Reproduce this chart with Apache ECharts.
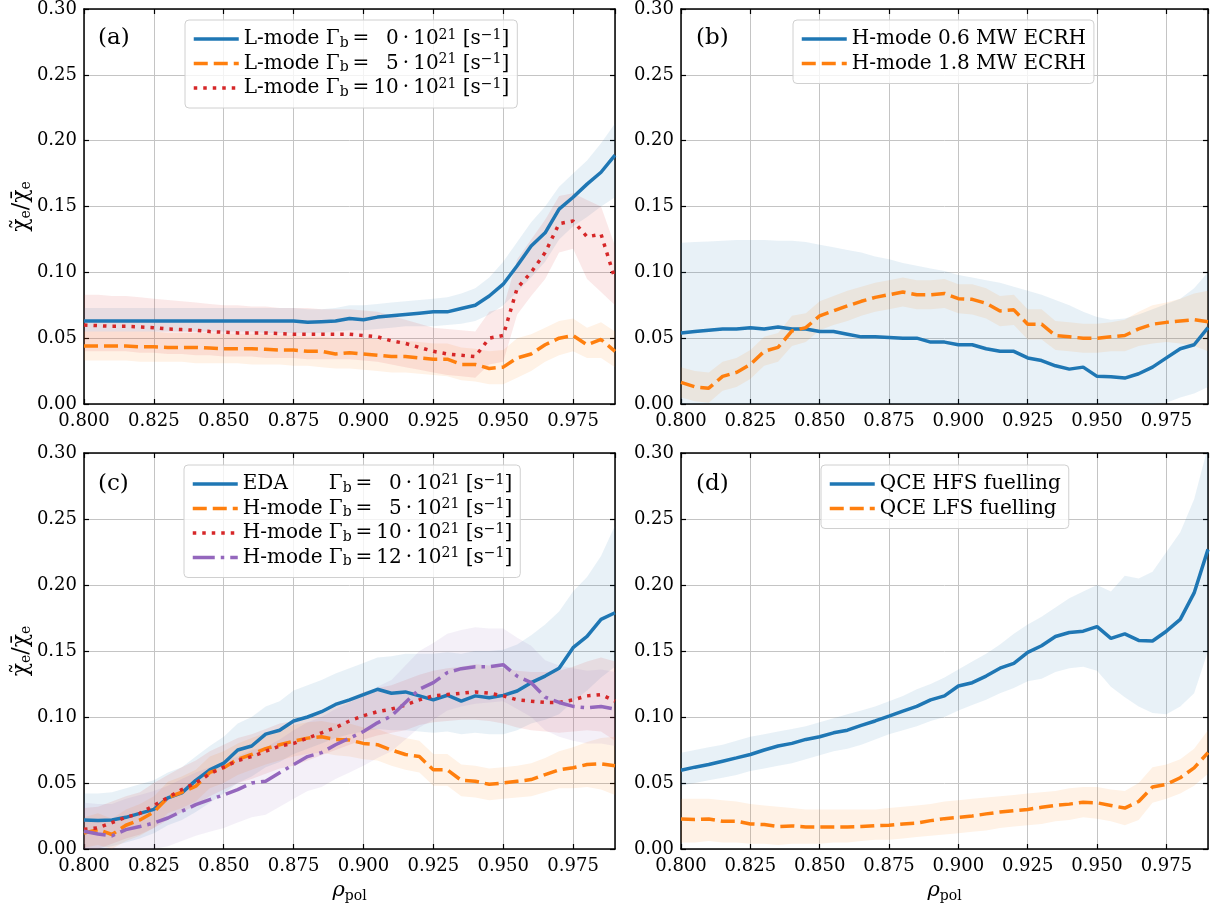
<!DOCTYPE html>
<html>
<head>
<meta charset="utf-8">
<script src="https://cdn.jsdelivr.net/npm/echarts@6/dist/echarts.min.js"></script>
<style>
html,body{margin:0;padding:0;background:#fff;}
#chart{width:1216px;height:909px;}
</style>
</head>
<body>
<div id="chart"></div>
<script>
// ---------- DATA ----------
const rho = [0.800,0.805,0.810,0.815,0.820,0.825,0.830,0.835,0.840,0.845,
             0.850,0.855,0.860,0.865,0.870,0.875,0.880,0.885,0.890,0.895,
             0.900,0.905,0.910,0.915,0.920,0.925,0.930,0.935,0.940,0.945,
             0.950,0.955,0.960,0.965,0.970,0.975,0.980,0.985,0.990];
const xTicks = [0.800,0.825,0.850,0.875,0.900,0.925,0.950,0.975];
const yTicks = [0.00,0.05,0.10,0.15,0.20,0.25,0.30];

// (a) L-mode
const aBlue   = [0.063,0.063,0.063,0.063,0.063,0.063,0.063,0.063,0.063,0.063, 0.063,0.063,0.063,0.063,0.063,0.063,0.062,0.0625,0.063,0.065, 0.064,0.066,0.067,0.068,0.069,0.070,0.070,0.0725,0.075,0.082, 0.091,0.105,0.120,0.130,0.148,0.157,0.167,0.176,0.189];
const aBlueLo = [0.055,0.055,0.055,0.055,0.055,0.055,0.055,0.055,0.055,0.055, 0.055,0.055,0.055,0.054,0.054,0.054,0.054,0.054,0.055,0.056, 0.056,0.057,0.058,0.059,0.059,0.059,0.060,0.061,0.063,0.068, 0.075,0.085,0.096,0.108,0.125,0.135,0.142,0.150,0.157];
const aBlueHi = [0.073,0.073,0.073,0.073,0.073,0.073,0.073,0.073,0.073,0.073, 0.073,0.073,0.073,0.073,0.073,0.073,0.072,0.072,0.073,0.075, 0.075,0.076,0.077,0.078,0.079,0.080,0.081,0.084,0.088,0.096, 0.108,0.123,0.138,0.150,0.165,0.175,0.185,0.198,0.213];
const aOrange   = [0.044,0.044,0.044,0.044,0.0435,0.0435,0.043,0.043,0.043,0.0425, 0.042,0.042,0.042,0.0415,0.041,0.041,0.040,0.040,0.038,0.039, 0.038,0.037,0.036,0.036,0.035,0.034,0.034,0.030,0.030,0.027, 0.028,0.035,0.038,0.045,0.050,0.052,0.045,0.049,0.040];
const aOrangeLo = [0.033,0.033,0.033,0.033,0.032,0.032,0.032,0.032,0.031,0.031, 0.031,0.031,0.030,0.030,0.030,0.029,0.029,0.028,0.027,0.027, 0.026,0.025,0.024,0.024,0.023,0.022,0.021,0.018,0.017,0.015, 0.015,0.020,0.025,0.032,0.037,0.040,0.035,0.035,0.028];
const aOrangeHi = [0.055,0.055,0.055,0.055,0.055,0.055,0.054,0.054,0.054,0.054, 0.053,0.053,0.053,0.053,0.052,0.052,0.051,0.051,0.050,0.050, 0.050,0.049,0.048,0.048,0.047,0.046,0.046,0.043,0.042,0.040, 0.041,0.050,0.053,0.058,0.063,0.065,0.058,0.062,0.055];
const aRed   = [0.060,0.0595,0.059,0.059,0.0585,0.058,0.057,0.0565,0.056,0.055, 0.0545,0.054,0.054,0.054,0.0535,0.053,0.053,0.053,0.053,0.053, 0.052,0.051,0.048,0.046,0.043,0.040,0.038,0.037,0.036,0.050, 0.052,0.088,0.100,0.115,0.137,0.139,0.127,0.129,0.095];
const aRedLo = [0.040,0.040,0.040,0.040,0.039,0.039,0.038,0.038,0.037,0.037, 0.036,0.036,0.036,0.035,0.035,0.035,0.034,0.034,0.034,0.034, 0.033,0.032,0.030,0.028,0.026,0.024,0.022,0.021,0.020,0.030, 0.032,0.068,0.082,0.095,0.115,0.118,0.095,0.085,0.075];
const aRedHi = [0.083,0.083,0.082,0.082,0.081,0.080,0.079,0.078,0.077,0.076, 0.075,0.075,0.074,0.074,0.073,0.073,0.073,0.072,0.072,0.072, 0.071,0.070,0.067,0.064,0.061,0.058,0.057,0.056,0.055,0.070, 0.073,0.110,0.125,0.140,0.158,0.160,0.155,0.150,0.120];

// (b) H-mode ECRH
const bBlue   = [0.054,0.055,0.056,0.057,0.057,0.058,0.057,0.0585,0.057,0.057, 0.055,0.055,0.053,0.051,0.051,0.0505,0.050,0.050,0.047,0.047, 0.045,0.045,0.042,0.040,0.040,0.035,0.033,0.029,0.0265,0.028, 0.021,0.0207,0.0197,0.023,0.028,0.035,0.042,0.045,0.058];
const bBlueLo = [0,0,0,0,0,0,0,0,0,0, 0,0,0,0,0,0,0,0,0,0, 0,0,0,0,0,0,0,0,0,0, 0,0,0,0,0,0.001,0.005,0.008,0.013];
const bBlueHi = [0.1225,0.123,0.1235,0.124,0.1245,0.1245,0.1245,0.124,0.124,0.123, 0.121,0.119,0.117,0.115,0.112,0.110,0.107,0.105,0.103,0.101, 0.098,0.096,0.094,0.092,0.089,0.086,0.083,0.079,0.075,0.070, 0.066,0.064,0.065,0.068,0.072,0.076,0.080,0.088,0.100];
const bOrange   = [0.0164,0.013,0.012,0.021,0.024,0.030,0.040,0.043,0.0555,0.058, 0.067,0.0707,0.0745,0.078,0.081,0.083,0.085,0.083,0.083,0.084, 0.080,0.0795,0.0765,0.0707,0.0715,0.0606,0.0606,0.052,0.051,0.050, 0.050,0.051,0.052,0.057,0.0606,0.062,0.063,0.064,0.0624];
const bOrangeLo = [0.005,0.002,0.001,0.010,0.013,0.019,0.029,0.032,0.044,0.047, 0.056,0.060,0.063,0.067,0.070,0.072,0.074,0.072,0.072,0.073, 0.069,0.068,0.065,0.059,0.060,0.049,0.049,0.041,0.040,0.039, 0.039,0.040,0.040,0.044,0.046,0.047,0.046,0.044,0.040];
const bOrangeHi = [0.028,0.025,0.024,0.032,0.035,0.041,0.051,0.054,0.067,0.069, 0.078,0.082,0.086,0.089,0.092,0.094,0.096,0.094,0.094,0.095, 0.091,0.091,0.088,0.082,0.083,0.072,0.072,0.063,0.062,0.061, 0.061,0.062,0.064,0.070,0.075,0.077,0.080,0.084,0.086];

// (c) EDA / H-mode
const cBlue   = [0.022,0.0215,0.022,0.024,0.027,0.030,0.0387,0.0425,0.052,0.060, 0.065,0.075,0.078,0.087,0.090,0.097,0.100,0.104,0.1095,0.113, 0.117,0.121,0.118,0.119,0.116,0.113,0.1165,0.112,0.116,0.1146, 0.1164,0.1197,0.126,0.131,0.137,0.1525,0.161,0.174,0.179];
const cBlueLo = [0.000,0.000,0.002,0.005,0.008,0.012,0.018,0.022,0.028,0.035, 0.042,0.050,0.055,0.062,0.066,0.072,0.076,0.080,0.084,0.087, 0.089,0.091,0.090,0.090,0.089,0.088,0.089,0.087,0.088,0.087, 0.087,0.090,0.095,0.098,0.102,0.112,0.120,0.130,0.138];
const cBlueHi = [0.042,0.042,0.043,0.046,0.049,0.052,0.058,0.062,0.070,0.078, 0.085,0.095,0.100,0.108,0.112,0.120,0.124,0.128,0.133,0.137, 0.141,0.145,0.146,0.148,0.148,0.148,0.149,0.148,0.150,0.150, 0.151,0.155,0.162,0.170,0.180,0.195,0.206,0.222,0.245];
const cOrange   = [0.012,0.0147,0.011,0.018,0.022,0.028,0.039,0.043,0.0476,0.058, 0.0615,0.068,0.0716,0.076,0.079,0.0817,0.084,0.085,0.083,0.0825, 0.080,0.079,0.075,0.0716,0.070,0.060,0.060,0.052,0.0513,0.049, 0.050,0.0513,0.0526,0.0564,0.060,0.0615,0.064,0.0645,0.063];
const cOrangeLo = [0.001,0.003,0.000,0.006,0.010,0.016,0.027,0.031,0.036,0.046, 0.050,0.056,0.060,0.064,0.067,0.070,0.072,0.073,0.071,0.070, 0.068,0.067,0.063,0.060,0.058,0.048,0.048,0.040,0.039,0.037, 0.038,0.039,0.040,0.043,0.046,0.046,0.047,0.045,0.041];
const cOrangeHi = [0.024,0.027,0.023,0.030,0.034,0.040,0.051,0.055,0.060,0.070, 0.074,0.080,0.084,0.088,0.091,0.094,0.096,0.097,0.095,0.095, 0.092,0.091,0.087,0.084,0.082,0.072,0.072,0.064,0.063,0.061, 0.062,0.063,0.065,0.069,0.074,0.077,0.081,0.084,0.085];
const cRed   = [0.015,0.016,0.020,0.024,0.027,0.033,0.039,0.045,0.050,0.057, 0.062,0.067,0.070,0.074,0.078,0.080,0.084,0.088,0.092,0.097, 0.101,0.104,0.106,0.109,0.113,0.116,0.117,0.118,0.119,0.118, 0.116,0.113,0.112,0.111,0.111,0.113,0.116,0.117,0.112];
const cRedLo = [0.000,0.000,0.004,0.008,0.011,0.016,0.022,0.028,0.033,0.040, 0.045,0.050,0.053,0.057,0.061,0.063,0.067,0.071,0.075,0.079, 0.083,0.086,0.088,0.090,0.094,0.096,0.097,0.098,0.098,0.097, 0.095,0.092,0.090,0.089,0.088,0.089,0.090,0.089,0.082];
const cRedHi = [0.031,0.032,0.036,0.040,0.043,0.050,0.056,0.062,0.067,0.074, 0.079,0.084,0.087,0.091,0.095,0.097,0.101,0.105,0.109,0.114, 0.119,0.122,0.124,0.128,0.132,0.135,0.137,0.138,0.140,0.139, 0.137,0.135,0.134,0.134,0.135,0.138,0.142,0.145,0.142];
const cPurple   = [0.0134,0.0114,0.010,0.0147,0.017,0.0197,0.0235,0.0286,0.0336,0.0374, 0.041,0.045,0.050,0.0514,0.0577,0.064,0.070,0.073,0.079,0.084, 0.089,0.0956,0.1007,0.111,0.121,0.126,0.1336,0.1366,0.138,0.138, 0.1396,0.131,0.126,0.115,0.111,0.108,0.107,0.108,0.106];
const cPurpleLo = [0.000,0.000,0.000,0.000,0.000,0.000,0.002,0.006,0.010,0.013, 0.016,0.020,0.024,0.026,0.032,0.038,0.044,0.047,0.053,0.058, 0.063,0.069,0.074,0.083,0.092,0.098,0.105,0.108,0.110,0.111, 0.112,0.106,0.100,0.090,0.085,0.082,0.080,0.080,0.078];
const cPurpleHi = [0.035,0.034,0.034,0.038,0.041,0.044,0.048,0.053,0.058,0.062, 0.066,0.070,0.075,0.077,0.083,0.090,0.096,0.100,0.106,0.111, 0.116,0.123,0.128,0.139,0.150,0.156,0.163,0.166,0.168,0.167, 0.167,0.160,0.154,0.143,0.139,0.137,0.135,0.136,0.134];

// (d) QCE fuelling
const dBlue   = [0.0597,0.062,0.064,0.0665,0.069,0.0716,0.075,0.078,0.080,0.083, 0.085,0.088,0.090,0.0936,0.097,0.1007,0.1045,0.108,0.113,0.116, 0.1235,0.126,0.131,0.137,0.1407,0.149,0.154,0.161,0.164,0.165, 0.1685,0.1596,0.163,0.158,0.1576,0.165,0.174,0.194,0.227];
const dBlueLo = [0.048,0.050,0.052,0.054,0.056,0.059,0.061,0.063,0.065,0.068, 0.071,0.074,0.076,0.079,0.083,0.087,0.090,0.093,0.097,0.100, 0.105,0.109,0.113,0.118,0.122,0.127,0.129,0.134,0.137,0.138, 0.135,0.123,0.115,0.108,0.103,0.102,0.108,0.118,0.150];
const dBlueHi = [0.073,0.075,0.077,0.079,0.082,0.085,0.087,0.089,0.091,0.093, 0.096,0.099,0.102,0.105,0.108,0.112,0.116,0.121,0.125,0.130, 0.136,0.142,0.148,0.155,0.163,0.170,0.176,0.183,0.190,0.195, 0.200,0.195,0.207,0.205,0.210,0.225,0.240,0.265,0.305];
const dOrange   = [0.0228,0.0223,0.0228,0.021,0.021,0.019,0.0185,0.017,0.0175,0.0167, 0.0167,0.0167,0.0167,0.017,0.0177,0.018,0.019,0.0197,0.0215,0.023, 0.024,0.025,0.0266,0.028,0.029,0.030,0.0316,0.033,0.034,0.0354, 0.035,0.033,0.031,0.036,0.047,0.049,0.054,0.0615,0.073];
const dOrangeLo = [0.005,0.005,0.006,0.005,0.005,0.004,0.004,0.003,0.004,0.004, 0.004,0.005,0.005,0.006,0.007,0.007,0.008,0.009,0.010,0.011, 0.012,0.013,0.014,0.016,0.017,0.018,0.019,0.021,0.022,0.024, 0.023,0.021,0.018,0.022,0.035,0.038,0.042,0.048,0.057];
const dOrangeHi = [0.038,0.038,0.038,0.037,0.036,0.034,0.033,0.032,0.031,0.030, 0.030,0.030,0.030,0.030,0.030,0.031,0.032,0.033,0.034,0.036, 0.037,0.038,0.039,0.040,0.041,0.042,0.043,0.044,0.046,0.047, 0.047,0.045,0.044,0.050,0.062,0.064,0.068,0.076,0.090];

// legend texts
const namesA = ['L-mode Γb = 0·10^21 [s^-1]','L-mode Γb = 5·10^21 [s^-1]','L-mode Γb = 10·10^21 [s^-1]'];
const prefA = ['L-mode','L-mode','L-mode'];
const numA = ['0','5','10'];
const namesB = ['H-mode 0.6 MW ECRH','H-mode 1.8 MW ECRH'];
const namesC = ['EDA Γb = 0·10^21 [s^-1]','H-mode Γb = 5·10^21 [s^-1]','H-mode Γb = 10·10^21 [s^-1]','H-mode Γb = 12·10^21 [s^-1]'];
const prefC = ['EDA','H-mode','H-mode','H-mode'];
const numC = ['0','5','10','12'];
const namesD = ['QCE HFS fuelling','QCE LFS fuelling'];
const panelLabels = ['(a)','(b)','(c)','(d)'];

// ---------- STYLE ----------
const FONT = 'DejaVu Serif';
const C = {blue:'#1f77b4', orange:'#ff7f0e', red:'#d62728', purple:'#9467bd'};
const BAND = {blue:'rgba(31,119,180,0.10)', orange:'rgba(255,127,14,0.10)', red:'rgba(214,39,40,0.10)', purple:'rgba(148,103,189,0.10)'};
const LW = 3.5;
const DASH = {solid:'solid', dashed:[14,6], dotted:[3.5,6], dashdot:[22,6,3.5,6]};

const grids = [
  {left:84, top:9, width:531, height:395},
  {left:681, top:9, width:527, height:395},
  {left:84, top:453, width:531, height:396},
  {left:681, top:453, width:527, height:396}
];

const panels = [
  {items:[
    {name:namesA[0], v:aBlue, lo:aBlueLo, hi:aBlueHi, c:'blue', d:'solid'},
    {name:namesA[1], v:aOrange, lo:aOrangeLo, hi:aOrangeHi, c:'orange', d:'dashed'},
    {name:namesA[2], v:aRed, lo:aRedLo, hi:aRedHi, c:'red', d:'dotted'}],
   legend:{left:185, top:20}},
  {items:[
    {name:namesB[0], v:bBlue, lo:bBlueLo, hi:bBlueHi, c:'blue', d:'solid'},
    {name:namesB[1], v:bOrange, lo:bOrangeLo, hi:bOrangeHi, c:'orange', d:'dashed'}],
   legend:{left:793, top:20}},
  {items:[
    {name:namesC[0], v:cBlue, lo:cBlueLo, hi:cBlueHi, c:'blue', d:'solid'},
    {name:namesC[1], v:cOrange, lo:cOrangeLo, hi:cOrangeHi, c:'orange', d:'dashed'},
    {name:namesC[2], v:cRed, lo:cRedLo, hi:cRedHi, c:'red', d:'dotted'},
    {name:namesC[3], v:cPurple, lo:cPurpleLo, hi:cPurpleHi, c:'purple', d:'dashdot'}],
   legend:{left:184, top:465}},
  {items:[
    {name:namesD[0], v:dBlue, lo:dBlueLo, hi:dBlueHi, c:'blue', d:'solid'},
    {name:namesD[1], v:dOrange, lo:dOrangeLo, hi:dOrangeHi, c:'orange', d:'dashed'}],
   legend:{left:821, top:465}}
];

// rich legend labels
const FIG = '\u2007'; // figure space = width of one digit
const richMap = {};
function gammaText(pref, num, padded){
  const n = num.length < 2 ? FIG + num : num;
  return '{' + (padded ? 'pw' : 'p') + '|' + pref + ' }{t|Γ}{sb|b}{t|\u2009=\u2009}{t|' + n +
         '\u2009·\u200910}{sp|21}{t| [s}{sp|−1}{t|]}';
}
namesA.forEach((n,i)=>{ richMap[n] = gammaText(prefA[i], numA[i], false); });
namesC.forEach((n,i)=>{ richMap[n] = gammaText(prefC[i], numC[i], true); });

const LFS = 20;
const legendRich = {
  p:{fontFamily:FONT, fontSize:LFS, lineHeight:22, color:'#000'},
  pw:{fontFamily:FONT, fontSize:LFS, lineHeight:22, color:'#000', width:86},
  t:{fontFamily:FONT, fontSize:LFS, lineHeight:22, color:'#000'},
  sb:{fontFamily:FONT, fontSize:14, lineHeight:12, verticalAlign:'bottom', color:'#000'},
  sp:{fontFamily:FONT, fontSize:14, lineHeight:12, verticalAlign:'top', color:'#000'}
};

// ---------- AXES ----------
const xAxis = [], yAxis = [];
const axLine = {show:true, onZero:false, lineStyle:{color:'#000', width:1.5}};
const tick = {show:true, inside:true, length:5, lineStyle:{color:'#000', width:1.2}};
const split = {show:true, lineStyle:{color:'#c4c4c4', width:1}};
grids.forEach((g,p)=>{
  xAxis.push({type:'value', gridIndex:p, min:rho[0], max:rho[rho.length-1], interval:xTicks[1]-xTicks[0],
    axisLine:axLine, axisTick:tick, splitLine:split,
    axisLabel:{show:true, fontFamily:FONT, fontSize:18, color:'#000', margin:8, showMaxLabel:false,
      formatter:v=> xTicks.some(t=>Math.abs(t-v)<1e-6) ? v.toFixed(3) : ''},
    name: p>=2 ? '{r|ρ}{s|pol}' : '', nameLocation:'middle', nameGap:30,
    nameTextStyle:{rich:{r:{fontFamily:FONT, fontSize:21, fontStyle:'italic', color:'#000', lineHeight:24},
                         s:{fontFamily:FONT, fontSize:14, color:'#000', verticalAlign:'bottom', lineHeight:16}}}
  });
  xAxis.push({type:'value', gridIndex:p, position:'top', min:rho[0], max:rho[rho.length-1], interval:xTicks[1]-xTicks[0],
    axisLine:axLine, axisTick:tick, splitLine:{show:false}, axisLabel:{show:false}});
  yAxis.push({type:'value', gridIndex:p, min:yTicks[0], max:yTicks[yTicks.length-1], interval:yTicks[1]-yTicks[0],
    axisLine:axLine, axisTick:tick, splitLine:split,
    axisLabel:{show:true, fontFamily:FONT, fontSize:18, color:'#000', margin:7, formatter:v=>v.toFixed(2)},
    name: (p===0||p===2) ? '{c|χ\u0303}{s|e}{c|/}{c|χ\u0304}{s|e}' : '', nameLocation:'middle', nameGap:50, nameRotate:90,
    nameTextStyle:{rich:{c:{fontFamily:FONT, fontSize:22, color:'#000', lineHeight:24},
                         s:{fontFamily:FONT, fontSize:14, color:'#000', verticalAlign:'bottom', lineHeight:14}}}
  });
  yAxis.push({type:'value', gridIndex:p, position:'right', min:yTicks[0], max:yTicks[yTicks.length-1], interval:yTicks[1]-yTicks[0],
    axisLine:axLine, axisTick:tick, splitLine:{show:false}, axisLabel:{show:false}});
});

// ---------- SERIES ----------
function bandSeries(p, it){
  const lo = it.lo, hi = it.hi, fill = BAND[it.c];
  return {type:'custom', xAxisIndex:2*p, yAxisIndex:2*p, silent:true, z:1,
    data: rho.map((x,i)=>[x, lo[i], hi[i]]),
    encode:{x:0, y:[1,2]},
    renderItem:(params, api)=>{
      if (params.dataIndex !== 0) return null;
      const pts = [];
      for (let i=0;i<rho.length;i++) pts.push(api.coord([rho[i], hi[i]]));
      for (let i=rho.length-1;i>=0;i--) pts.push(api.coord([rho[i], lo[i]]));
      const cs = params.coordSys;
      return {type:'polygon', shape:{points:pts}, style:{fill:fill, stroke:null},
              clipPath:{type:'rect', shape:{x:cs.x, y:cs.y, width:cs.width, height:cs.height}}};
    }};
}
const series = [];
panels.forEach((P,p)=>{
  P.items.forEach(it=> series.push(bandSeries(p, it)));
  P.items.forEach(it=>{
    series.push({type:'line', name:it.name, xAxisIndex:2*p, yAxisIndex:2*p, symbol:'none',
      lineStyle:{color:C[it.c], width:LW, type:DASH[it.d]}, itemStyle:{color:C[it.c]}, z:3,
      data: rho.map((x,i)=>[x, it.v[i]])});
  });
});

const legends = panels.map(P=>({
  data:P.items.map(it=>it.name), orient:'vertical', left:P.legend.left, top:P.legend.top,
  itemWidth:45, itemHeight:12, itemGap:2.5, padding:[8,8,9,7],
  backgroundColor:'rgba(255,255,255,0.8)', borderColor:'#d0d0d0', borderWidth:1, borderRadius:4,
  selectedMode:false,
  itemStyle:{opacity:0},
  lineStyle:{width:LW},
  formatter:n=> richMap[n] || n,
  textStyle:{fontFamily:FONT, fontSize:LFS, color:'#000', lineHeight:22, rich:legendRich}
}));

const titles = [
  {text:panelLabels[0], left:98, top:27},
  {text:panelLabels[1], left:696, top:27},
  {text:panelLabels[2], left:98, top:473},
  {text:panelLabels[3], left:696, top:473}
].map(t=>Object.assign(t,{padding:0, textStyle:{fontFamily:FONT, fontSize:23, fontWeight:'normal', color:'#000'}}));

const chart = echarts.init(document.getElementById('chart'), null, {renderer:'canvas'});
chart.setOption({
  animation:false,
  backgroundColor:'#fff',
  title:titles,
  grid:grids,
  xAxis:xAxis,
  yAxis:yAxis,
  legend:legends,
  series:series
});
</script>
</body>
</html>
